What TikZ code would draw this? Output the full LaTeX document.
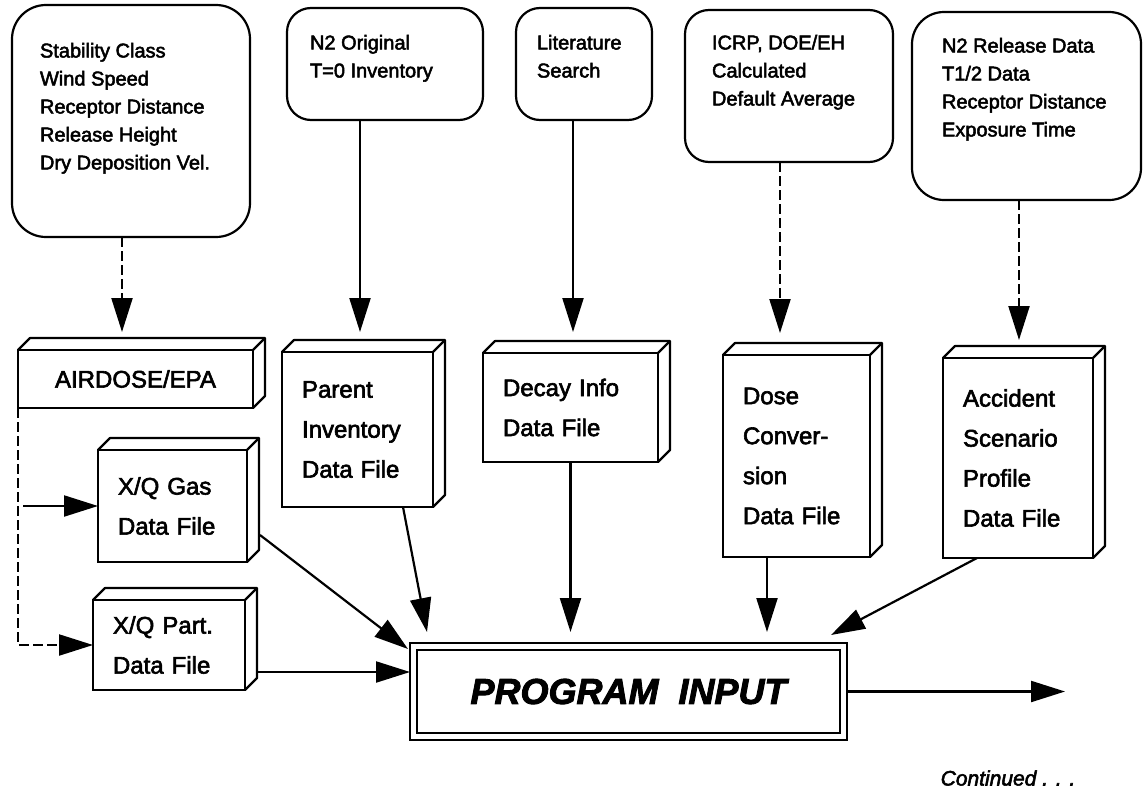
\documentclass[tikz,border=0pt]{standalone}
\usepackage{fontspec}
\setmainfont{Liberation Sans}[FakeBold=2.5]
\usetikzlibrary{arrows.meta,calc}
\begin{document}
\begin{tikzpicture}[x=1pt,y=-1pt,
  every node/.style={inner sep=0pt, outer sep=0pt},
  ln/.style={line width=2.2pt},
  rbox/.style={draw, line width=2.2pt, rounded corners=24pt},
  ttext/.style={font=\fontsize{20}{28}\selectfont, align=left, anchor=north west},
  fbox/.style={draw, line width=2.2pt, align=left, font=\fontsize{24}{40}\selectfont, inner xsep=20pt},
  arr/.style={line width=2.2pt, -{Triangle[length=34pt,width=21pt]}},
  dsh/.style={dash pattern=on 10pt off 4pt},
]
\useasboundingbox (0,0) rectangle (1148,795);
\fill[white] (0,0) rectangle (1148,795);

% top rounded boxes
\node[rbox, minimum width=238, minimum height=232, rounded corners=34pt] (t1) at (131,121) {};
\node[ttext] (t1x) at (40,43) {Stability Class\\Wind Speed\\Receptor Distance\\Release Height\\Dry Deposition Vel.};
\node[rbox, minimum width=196, minimum height=112] (t2) at (385,64) {};
\node[ttext] (t2x) at (310,35) {N2 Original\\T=0 Inventory};
\node[rbox, minimum width=136, minimum height=112] (t3) at (584,64) {};
\node[ttext] (t3x) at (537,35) {Literature\\Search};
\node[rbox, minimum width=208, minimum height=152] (t4) at (789,86) {};
\node[ttext] (t4x) at (712,35) {ICRP, DOE/EH\\Calculated\\Default Average};
\node[rbox, minimum width=229, minimum height=188, rounded corners=32pt] (t5) at (1026.5,106) {};
\node[ttext] (t5x) at (942,38) {N2 Release Data\\T1/2 Data\\Receptor Distance\\Exposure Time};

% 3D data boxes (front faces)
\node[fbox, align=center, minimum width=235, minimum height=58] (airdose) at (135.5,379) {AIRDOSE/EPA};
\node[fbox, minimum width=151, minimum height=155, text width=111] (parent) at (357.5,429.5) {Parent\\Inventory\\Data File};
\node[fbox, minimum width=175, minimum height=109, text width=135] (decay) at (570.5,407.5) {Decay Info\\Data File};
\node[fbox, minimum width=147, minimum height=202, text width=107] (dose) at (796.5,456) {Dose\\Conver-\\sion\\Data File};
\node[fbox, minimum width=150, minimum height=200, text width=110] (accident) at (1018,458) {Accident\\Scenario\\Profile\\Data File};
\node[fbox, minimum width=149, minimum height=112, text width=109] (xqgas) at (172.5,506) {X/Q Gas\\Data File};
\node[fbox, minimum width=152, minimum height=90, text width=112] (xqpart) at (169,645) {X/Q Part.\\Data File};

% depth of the 3D boxes
\foreach \b in {airdose,parent,decay,dose,accident,xqgas,xqpart}{
  \draw[ln, line join=round] (\b.north west) -- ++(12,-12) -- ([shift={(12,-12)}]\b.north east)
     -- ([shift={(12,-12)}]\b.south east) -- (\b.south east);
  \draw[ln] (\b.north east) -- ++(12,-12);
}

% program input
\node[draw, line width=2.2pt, minimum width=437, minimum height=97,
      font=\fontsize{36}{40}\selectfont\bfseries\itshape] (pi) at (628.5,691.5) {PROGRAM~~INPUT};
\draw[ln] ([shift={(7,7)}]pi.north west) rectangle ([shift={(-7,-7)}]pi.south east);

\node[font=\fontsize{21}{24}\selectfont\itshape] (cont) at (1008,778) {Continued . . .};

% connectors from the top boxes
\draw[arr,dsh] ([xshift=-9pt]t1.south) -- ([xshift=-13.5pt,yshift=18pt]airdose.north);
\draw[arr] ([xshift=-25pt]t2.south) -- ([xshift=2.5pt,yshift=20pt]parent.north);
\draw[arr] ([xshift=-11pt]t3.south) -- ([xshift=2.5pt,yshift=21pt]decay.north);
\draw[arr,dsh] ([xshift=-9pt]t4.south) -- ([xshift=-16.5pt,yshift=22pt]dose.north);
\draw[arr,dsh] ([xshift=-7.5pt]t5.south) -- ([xshift=1pt,yshift=18pt]accident.north);

% AIRDOSE bracket
\draw[arr,dsh] (airdose.south west) -- (airdose.south west |- xqpart.west) -- (xqpart.west);
\draw[arr] ([xshift=5pt]airdose.south west |- xqgas.west) -- (xqgas.west);

% into program input
\draw[arr] ([xshift=13pt,yshift=-29pt]xqgas.east) -- ([xshift=-2pt,yshift=-6pt]pi.north west);
\draw[arr] ([xshift=12pt,yshift=-27pt]xqpart.east) -- ([yshift=19.5pt]pi.west);
\draw[arr] ([xshift=45.5pt]parent.south) -- ([xshift=17pt,yshift=11pt]pi.north west);
\draw[arr] (decay.south) -- ([xshift=-58pt,yshift=11pt]pi.north);
\draw[arr] ([xshift=-29.5pt]dose.south) -- ([xshift=-80pt,yshift=11pt]pi.north east);
\draw[arr] ([xshift=-41pt]accident.south) -- ([xshift=-16pt,yshift=8pt]pi.north east);

% output
\coordinate (out) at (1065,691.5);
\draw[arr] (pi.east) -- (out);
\end{tikzpicture}
\end{document}
